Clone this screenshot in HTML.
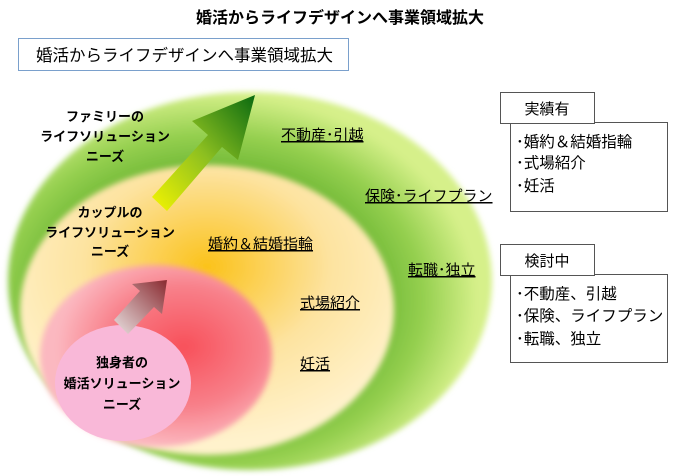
<!DOCTYPE html>
<html><head><meta charset="utf-8"><style>
html,body{margin:0;padding:0;background:#fff;width:674px;height:476px;overflow:hidden}
svg text{font-family:"Liberation Sans","Noto Sans CJK JP",sans-serif;fill:#000}
</style></head><body>
<svg width="674" height="476" viewBox="0 0 674 476" xmlns="http://www.w3.org/2000/svg">
<defs>
<radialGradient id="gG" cx="0.42" cy="0.55" r="0.55">
<stop offset="0.55" stop-color="#5fae2a"/><stop offset="0.8" stop-color="#96d050"/><stop offset="1" stop-color="#d6f08a"/>
</radialGradient>
<radialGradient id="gY" cx="0.5" cy="0.35" r="0.6">
<stop offset="0" stop-color="#fbc21a"/><stop offset="0.55" stop-color="#fde3a0"/><stop offset="1" stop-color="#fff2cc"/>
</radialGradient>
<radialGradient id="gR" cx="0.62" cy="0.45" r="0.55">
<stop offset="0" stop-color="#f8505a"/><stop offset="0.6" stop-color="#f8808a"/><stop offset="1" stop-color="#fbb8c0"/>
</radialGradient>
<filter id="bl" x="-10%" y="-10%" width="120%" height="120%"><feGaussianBlur stdDeviation="3"/></filter>
<linearGradient id="aG" x1="0" y1="1" x2="1" y2="0">
<stop offset="0" stop-color="#f5f500"/><stop offset="0.5" stop-color="#8cbf20"/><stop offset="1" stop-color="#0a6a10"/>
</linearGradient>
<linearGradient id="aR" x1="0" y1="1" x2="1" y2="0">
<stop offset="0" stop-color="#e8e0e0"/><stop offset="1" stop-color="#8a2a30"/>
</linearGradient>
</defs>
<text x="340" y="23" font-size="16" font-weight="bold" text-anchor="middle">婚活からライフデザインへ事業領域拡大</text>
<rect x="18.5" y="38.5" width="330" height="32" fill="#fff" stroke="#7aa0cc"/>
<text x="36" y="61" font-size="16.5">婚活からライフデザインへ事業領域拡大</text>

<ellipse cx="250" cy="281" rx="242" ry="189" fill="url(#gG)" filter="url(#bl)"/>
<ellipse cx="207" cy="310" rx="187" ry="145" fill="url(#gY)" filter="url(#bl)"/>
<ellipse cx="156" cy="356" rx="116" ry="91" fill="url(#gR)" filter="url(#bl)"/>
<ellipse cx="123" cy="383" rx="68" ry="58" fill="#f9b8d8"/>

<polygon points="152,197 208,135 192,121 255,95 238,160 222,147 167,211" fill="url(#aG)"/>
<polygon points="114,320 140,291 132,284 167,280 162,314 154,307 128,334" fill="url(#aR)"/>

<g font-size="13" font-weight="bold" text-anchor="middle">
<text x="105" y="121">ファミリーの</text>
<text x="105" y="141">ライフソリューション</text>
<text x="105" y="161">ニーズ</text>
<text x="110" y="217">カップルの</text>
<text x="110" y="237">ライフソリューション</text>
<text x="110" y="256">ニーズ</text>
<text x="122" y="367">独身者の</text>
<text x="122" y="388">婚活ソリューション</text>
<text x="122" y="409">ニーズ</text>
</g>
<g font-size="15">
<text x="281" y="140" text-decoration="underline">不動産･引越</text>
<text x="365" y="201" text-decoration="underline">保険･ライフプラン</text>
<text x="408" y="275" text-decoration="underline">転職･独立</text>
<text x="208" y="249" text-decoration="underline">婚約＆結婚指輪</text>
<text x="300" y="308" text-decoration="underline">式場紹介</text>
<text x="300" y="369" text-decoration="underline">妊活</text>
</g>

<rect x="510.5" y="122.5" width="157" height="89" fill="#fff" stroke="#555"/>
<rect x="500.5" y="92.5" width="94" height="31" fill="#fff" stroke="#555"/>
<text x="547" y="114" font-size="15" text-anchor="middle">実績有</text>
<g font-size="15.5">
<text x="516" y="147">･婚約＆結婚指輪</text>
<text x="516" y="168">･式場紹介</text>
<text x="516" y="191">･妊活</text>
</g>
<rect x="510.5" y="274.5" width="157" height="88" fill="#fff" stroke="#555"/>
<rect x="500.5" y="244.5" width="94" height="31" fill="#fff" stroke="#555"/>
<text x="547" y="266" font-size="15" text-anchor="middle">検討中</text>
<g font-size="15.5">
<text x="516" y="299">･不動産、引越</text>
<text x="516" y="321">･保険、ライフプラン</text>
<text x="516" y="344">･転職、独立</text>
</g>
</svg>
</body></html>
